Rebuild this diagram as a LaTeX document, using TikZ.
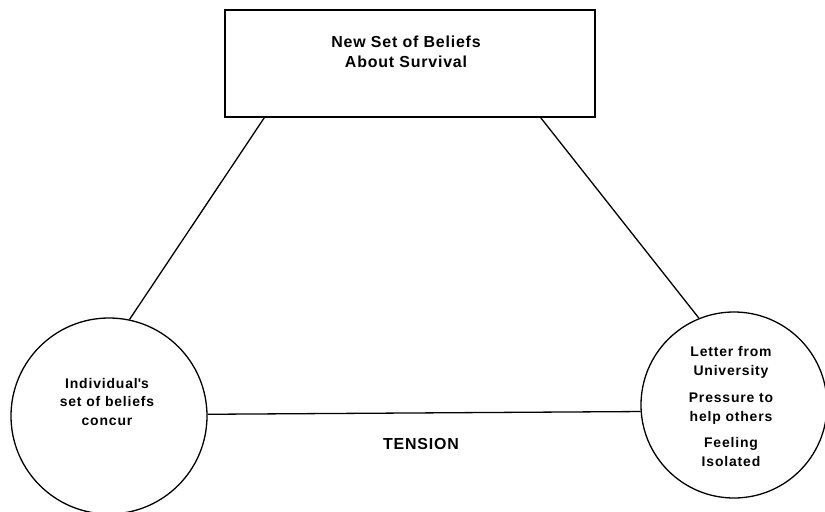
\documentclass[tikz,border=0pt]{standalone}
\usepackage{fontspec}
\setmainfont{Liberation Sans}
\usetikzlibrary{calc}
\begin{document}
\begin{tikzpicture}[x=1bp,y=-1bp,
  line width=1.3bp,
  lbl/.style={font=\fontsize{14}{19}\selectfont\bfseries\addfontfeature{LetterSpace=6}, align=center},
  bigl/.style={font=\fontsize{16}{20}\selectfont\bfseries\addfontfeature{LetterSpace=5}, align=center},
  rbox/.style={draw, rectangle, minimum width=370bp, minimum height=107bp, inner sep=0pt},
  circ/.style={draw, circle, inner sep=0pt}]
\useasboundingbox (0,0) rectangle (825,512);
\node[rbox] (box) at (410,63.5) {};
\node[bigl] (t1) at (406,52) {New Set of Beliefs\\About Survival};
\node[circ, minimum size=196bp] (lc) at (109,416) {};
\node[circ, minimum size=186bp] (rc) at (734,405) {};
\node[lbl] (lt) at (107,402) {Individual\textquotesingle s\\set of beliefs\\concur};
\node[lbl] (r1) at (731,362) {Letter from\\University};
\node[lbl] (r2) at (731,409) {Pressure to\\help others};
\node[lbl] (r3) at (731,452) {Feeling\\Isolated};
\node[font=\fontsize{16}{18}\selectfont\bfseries\addfontfeature{LetterSpace=5}] (ten) at (421,444) {TENSION};
\coordinate (bl) at ($(box.south west)+(40,0)$);
\coordinate (br) at ($(box.south east)+(-55,0)$);
\draw (bl) -- (lc.78);
\draw (br) -- (rc.112);
\draw (lc.1) -- (rc.184);
\end{tikzpicture}
\end{document}
